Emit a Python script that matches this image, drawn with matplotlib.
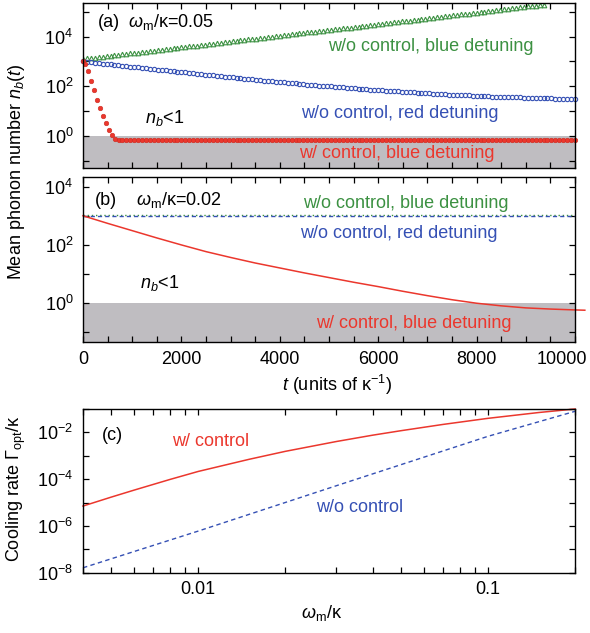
"""
Phonon number vs time (a, b) and cooling rate vs omega_m (c)
"""
import numpy as np
import matplotlib
matplotlib.use('Agg')
import matplotlib.pyplot as plt
import matplotlib.transforms as mtransforms
from matplotlib.ticker import FixedLocator, NullFormatter, FixedFormatter, MultipleLocator

plt.rcParams['font.family'] = ['Liberation Sans', 'DejaVu Sans']
plt.rcParams['mathtext.fontset'] = 'custom'
plt.rcParams['mathtext.rm'] = 'Liberation Sans'
plt.rcParams['mathtext.it'] = 'Liberation Sans:italic'
plt.rcParams['mathtext.bf'] = 'Liberation Sans:bold'

GREEN = '#3c9142'
BLUE = '#3550b4'
RED = '#eb372d'
GRAY = '#bfbdc1'
FS = 13

# ---------------- data ----------------
# panel (a): omega_m/kappa = 0.05, markers (log10 of n_b)
t_blue_a = np.arange(0, 10001, 80)
blue_log_a = [
    3.00, 2.98, 2.97, 2.95, 2.93, 2.91, 2.90, 2.88, 2.86, 2.84,
    2.83, 2.81, 2.79, 2.78, 2.76, 2.74, 2.72, 2.71, 2.69, 2.67,
    2.66, 2.64, 2.62, 2.61, 2.59, 2.57, 2.56, 2.54, 2.52, 2.51,
    2.49, 2.47, 2.46, 2.44, 2.42, 2.41, 2.39, 2.38, 2.36, 2.34,
    2.33, 2.31, 2.30, 2.28, 2.27, 2.25, 2.23, 2.22, 2.20, 2.19,
    2.17, 2.16, 2.14, 2.13, 2.12, 2.10, 2.09, 2.07, 2.06, 2.04,
    2.03, 2.02, 2.00, 1.99, 1.98, 1.96, 1.95, 1.94, 1.93, 1.91,
    1.90, 1.89, 1.88, 1.86, 1.85, 1.84, 1.83, 1.82, 1.81, 1.80,
    1.79, 1.78, 1.77, 1.76, 1.75, 1.74, 1.73, 1.72, 1.71, 1.70,
    1.69, 1.68, 1.67, 1.66, 1.66, 1.65, 1.64, 1.63, 1.63, 1.62,
    1.61, 1.60, 1.60, 1.59, 1.58, 1.58, 1.57, 1.57, 1.56, 1.56,
    1.55, 1.55, 1.54, 1.54, 1.53, 1.53, 1.52, 1.52, 1.51, 1.51,
    1.50, 1.50, 1.50, 1.49, 1.49, 1.49]

t_green_a = np.arange(0, 9361, 80)
green_log_a = [
    3.10, 3.12, 3.14, 3.16, 3.18, 3.19, 3.21, 3.23, 3.25, 3.27,
    3.29, 3.31, 3.33, 3.34, 3.36, 3.38, 3.40, 3.42, 3.44, 3.46,
    3.47, 3.49, 3.51, 3.53, 3.55, 3.57, 3.59, 3.61, 3.62, 3.64,
    3.66, 3.68, 3.70, 3.72, 3.74, 3.76, 3.77, 3.79, 3.81, 3.83,
    3.85, 3.87, 3.89, 3.91, 3.92, 3.94, 3.96, 3.98, 4.00, 4.02,
    4.04, 4.06, 4.07, 4.09, 4.11, 4.13, 4.15, 4.17, 4.19, 4.20,
    4.22, 4.24, 4.26, 4.28, 4.30, 4.32, 4.34, 4.35, 4.37, 4.39,
    4.41, 4.43, 4.45, 4.47, 4.49, 4.50, 4.52, 4.54, 4.56, 4.58,
    4.60, 4.62, 4.64, 4.65, 4.67, 4.69, 4.71, 4.73, 4.75, 4.77,
    4.79, 4.80, 4.82, 4.84, 4.86, 4.88, 4.90, 4.92, 4.93, 4.95,
    4.97, 4.99, 5.01, 5.03, 5.05, 5.07, 5.08, 5.10, 5.12, 5.14,
    5.16, 5.18, 5.20, 5.22, 5.23, 5.25, 5.27, 5.29]

t_red_fall = [0, 50, 110, 165, 215, 280, 345, 405, 470, 535, 590, 655, 725]
red_log_fall = [3.00, 2.88, 2.60, 2.20, 1.83, 1.46, 1.13, 0.80, 0.50, 0.23, 0.03, -0.11, -0.17]
t_red_flat = np.arange(800, 10001, 80)
red_log_flat = [
    -0.18, -0.18, -0.18, -0.18, -0.18, -0.18, -0.18, -0.18, -0.18, -0.18,
    -0.18, -0.18, -0.18, -0.18, -0.18, -0.18, -0.18, -0.18, -0.18, -0.18,
    -0.18, -0.18, -0.18, -0.18, -0.18, -0.18, -0.18, -0.18, -0.18, -0.18,
    -0.18, -0.18, -0.18, -0.18, -0.18, -0.18, -0.18, -0.18, -0.18, -0.18,
    -0.18, -0.18, -0.18, -0.18, -0.18, -0.18, -0.18, -0.18, -0.18, -0.18,
    -0.18, -0.18, -0.18, -0.18, -0.18, -0.18, -0.18, -0.18, -0.18, -0.18,
    -0.18, -0.18, -0.18, -0.18, -0.18, -0.18, -0.18, -0.18, -0.18, -0.18,
    -0.18, -0.18, -0.18, -0.18, -0.18, -0.18, -0.18, -0.18, -0.18, -0.18,
    -0.18, -0.18, -0.18, -0.18, -0.18, -0.18, -0.18, -0.18, -0.18, -0.18,
    -0.18, -0.18, -0.18, -0.18, -0.18, -0.18, -0.18, -0.18, -0.18, -0.18,
    -0.18, -0.18, -0.18, -0.18, -0.18, -0.18, -0.18, -0.18, -0.18, -0.18,
    -0.18, -0.18, -0.18, -0.18, -0.18, -0.18]

# panel (b): omega_m/kappa = 0.02
t_flat_b = [0, 10000]
green_b = [1080, 1080]
blue_b = [1000, 1000]
t_red_b = [0, 500, 1000, 1500, 2000, 2500, 3000, 3500, 4000, 4500, 5000,
           5500, 6000, 6500, 7000, 7500, 8000, 8500, 9000, 9500, 10000, 10200]
red_log_b = [3.00, 2.74, 2.49, 2.24, 2.00, 1.77, 1.57, 1.38, 1.21, 1.04, 0.88,
             0.72, 0.57, 0.41, 0.26, 0.12, 0.00, -0.09, -0.16, -0.20, -0.23, -0.24]

# panel (c): cooling rate
omega_red = [0.004, 0.005, 0.006, 0.008, 0.01, 0.015, 0.02, 0.03, 0.04, 0.05,
             0.07, 0.1, 0.15, 0.2]
rate_log_red = [-5.15, -4.77, -4.47, -4.01, -3.67, -3.15, -2.81, -2.39, -2.12, -1.93,
                -1.66, -1.40, -1.15, -1.00]
omega_blue = [0.004, 0.01, 0.03, 0.1, 0.2]
rate_log_blue = [-7.79, -6.22, -4.28, -2.17, -1.10]

# ---------------- figure ----------------
W, H = 590, 633
fig = plt.figure(figsize=(W / 100, H / 100), dpi=100)

def box(top, bottom, left=83, right=575):
    return [left / W, 1 - bottom / H, (right - left) / W, (bottom - top) / H]

axa = fig.add_axes(box(3, 168))
axb = fig.add_axes(box(177.3, 341.7))
axc = fig.add_axes(box(409, 572.7))

def style(ax):
    for s in ax.spines.values():
        s.set_linewidth(1.0)
    ax.tick_params(which='both', direction='in', top=True, right=True,
                   length=4.5, width=0.9, labelsize=FS, pad=7)

def txt(ax, xf, yf, s, color='k'):
    ax.text(xf, yf, s, transform=ax.transAxes, color=color, fontsize=FS,
            ha='left', va='baseline')

# (a)
ax = axa
ax.set_yscale('log')
ax.axhspan(1e-3, 1, color=GRAY, lw=0, zorder=0)
ax.plot(t_green_a, 10 ** np.array(green_log_a), ls='none', marker='^', ms=3.3,
        mfc='none', mec=GREEN, mew=0.8)
ax.plot(t_blue_a, 10 ** np.array(blue_log_a), ls='none', marker='o', ms=3.1,
        mfc='none', mec=BLUE, mew=0.8, clip_on=False)
ax.plot(t_red_fall + list(t_red_flat), 10 ** np.array(red_log_fall + red_log_flat),
        ls='none', marker='o', ms=3.3, mfc=RED, mec='#cc2a20', mew=0.4, clip_on=False)
ax.set_xlim(0, 10000)
ax.set_ylim(10 ** -1.3, 10 ** 5.36)
ax.yaxis.set_major_locator(FixedLocator([1, 1e2, 1e4]))
ax.yaxis.set_minor_locator(FixedLocator([1e-1, 1e1, 1e3, 1e5]))
ax.yaxis.set_minor_formatter(NullFormatter())
ax.xaxis.set_major_locator(MultipleLocator(2000))
ax.xaxis.set_minor_locator(MultipleLocator(500))
style(ax)
ax.tick_params(labelbottom=False)
txt(ax, 0.030, 0.853, '(a)')
txt(ax, 0.091, 0.853, r'$\omega_{\rm m}$/κ=0.05')
txt(ax, 0.498, 0.711, 'w/o control, blue detuning', GREEN)
txt(ax, 0.444, 0.301, 'w/o control, red detuning', BLUE)
txt(ax, 0.440, 0.059, 'w/ control, blue detuning', RED)
txt(ax, 0.126, 0.274, r'$n_b$<1')

# (b)
ax = axb
ax.set_yscale('log')
ax.axhspan(1e-3, 1, color=GRAY, lw=0, zorder=0)
ax.plot(t_flat_b, green_b, color=GREEN, ls=(0, (1, 2)), lw=1.0)
ax.plot(t_flat_b, blue_b, color=BLUE, ls=(0, (3, 2.2)), lw=1.0)
ax.plot(t_red_b, 10 ** np.array(red_log_b), color=RED, lw=1.1, clip_on=False)
ax.set_xlim(0, 10000)
ax.set_ylim(10 ** -1.32, 10 ** 4.32)
ax.yaxis.set_major_locator(FixedLocator([1, 1e2, 1e4]))
ax.yaxis.set_minor_locator(FixedLocator([1e-1, 1e1, 1e3]))
ax.yaxis.set_minor_formatter(NullFormatter())
ax.xaxis.set_major_locator(MultipleLocator(2000))
ax.xaxis.set_minor_locator(MultipleLocator(500))
style(ax)
txt(ax, 0.024, 0.8315, '(b)')
txt(ax, 0.107, 0.8315, r'$\omega_{\rm m}$/κ=0.02')
txt(ax, 0.447, 0.811, 'w/o control, blue detuning', GREEN)
txt(ax, 0.442, 0.629, 'w/o control, red detuning', BLUE)
txt(ax, 0.474, 0.0815, 'w/ control, blue detuning', RED)
txt(ax, 0.116, 0.325, r'$n_b$<1')

# keep the last time label inside the picture
fig.canvas.draw()
shift = mtransforms.ScaledTranslation(-13 / 100, 0, fig.dpi_scale_trans)
last = axb.get_xticklabels()[-1]
for lab in axb.get_xticklabels():
    if lab.get_text() in ('10000', '$\\mathdefault{10000}$'):
        last = lab
last.set_transform(last.get_transform() + shift)

# (c)
ax = axc
ax.set_xscale('log')
ax.set_yscale('log')
ax.plot(omega_red, 10 ** np.array(rate_log_red), color=RED, lw=1.1, clip_on=False)
ax.plot(omega_blue, 10 ** np.array(rate_log_blue), color=BLUE, ls=(0, (3.2, 2.4)),
        lw=1.0, clip_on=False)
ax.set_xlim(0.004, 0.2)
ax.set_ylim(1e-8, 1e-1)
ax.xaxis.set_major_locator(FixedLocator([0.01, 0.1]))
ax.xaxis.set_major_formatter(FixedFormatter(['0.01', '0.1']))
ax.xaxis.set_minor_locator(FixedLocator([0.004, 0.005, 0.006, 0.007, 0.008, 0.009,
                                         0.02, 0.03, 0.04, 0.05, 0.06, 0.07, 0.08,
                                         0.09, 0.2]))
ax.xaxis.set_minor_formatter(NullFormatter())
ax.yaxis.set_major_locator(FixedLocator([1e-8, 1e-6, 1e-4, 1e-2]))
ax.yaxis.set_minor_locator(FixedLocator([1e-7, 1e-5, 1e-3, 1e-1]))
ax.yaxis.set_minor_formatter(NullFormatter())
style(ax)
ax.tick_params(axis='x', pad=6)
txt(ax, 0.038, 0.811, '(c)')
txt(ax, 0.180, 0.774, 'w/ control', RED)
txt(ax, 0.474, 0.369, 'w/o control', BLUE)

# axis labels
fig.text(17 / W, 1 - 172 / H, r'Mean phonon number $n_b(t)$', rotation=90,
         ha='center', va='center', fontsize=FS)
fig.text(337 / W, 1 - 385 / H, r'$t$ (units of κ$^{-1}$)', ha='center', va='center',
         fontsize=FS)
fig.text(16 / W, 1 - 489 / H, r'Cooling rate $\Gamma_{\rm opt}$/κ', rotation=90,
         ha='center', va='center', fontsize=FS)
fig.text(322 / W, 1 - 613 / H, r'$\omega_{\rm m}$/κ', ha='center', va='center',
         fontsize=FS)

fig.savefig('out.png', dpi=100)
